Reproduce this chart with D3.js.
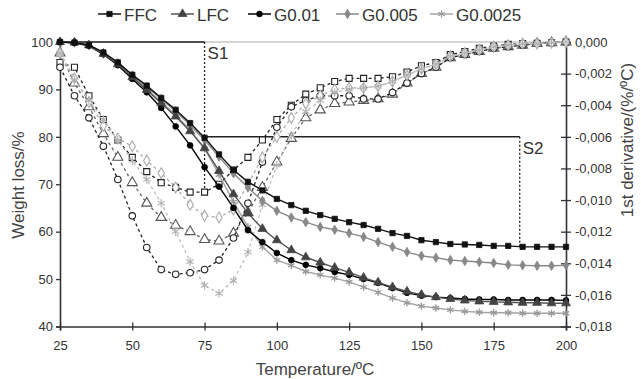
<!DOCTYPE html>
<html>
<head>
<meta charset="utf-8">
<script src="https://cdn.jsdelivr.net/npm/d3@7"></script>
<style>
body { margin: 0; background: #fff; }
text { font-family: "Liberation Sans", Arial, sans-serif; }
</style>
</head>
<body>
<script>
// temperatures, one point every 5 ºC
let temps = d3.range(25, 201, 5);

// weight loss (%), left axis
let ffcW   = [100,99.9,99.4,97.8,95.7,93.1,90.8,88.2,85.7,82.9,79.8,76.3,73.0,70.5,68.7,66.9,65.6,64.4,63.5,62.7,62.0,61.4,60.6,59.7,59.1,58.2,57.8,57.4,57.3,57.2,57.0,57.0,56.8,56.8,56.8,56.8];
let lfcW   = [100,99.9,99.3,97.5,95.3,92.6,89.9,87.1,84.3,81.2,77.6,72.8,67.9,63.9,60.6,58.2,56.1,54.6,53.5,52.4,51.4,50.3,49.3,48.3,47.4,46.7,46.2,45.8,45.5,45.3,45.2,45.1,45.0,45.0,44.9,44.9];
let g01W   = [100,99.8,99.2,97.4,95.1,92.2,89.4,86.1,82.2,78.2,73.6,69.5,65.0,60.3,57.8,55.5,54.0,53.0,52.3,51.5,50.9,50.0,49.2,48.1,47.1,46.5,46.2,46.0,45.8,45.7,45.7,45.6,45.6,45.6,45.6,45.5];
let g005W  = [100,99.9,99.3,97.6,95.5,92.9,90.5,88.0,85.4,82.5,79.3,75.8,72.3,69.3,66.5,64.4,63.0,62.0,61.0,60.4,59.7,58.9,57.8,56.8,55.7,54.9,54.5,54.0,53.8,53.6,53.4,53.0,52.9,52.8,52.8,52.9];
let g0025W = [100,99.9,99.3,97.6,95.4,92.7,90.0,87.4,84.6,81.5,77.5,72.0,66.3,61.0,56.8,54.0,52.9,51.6,50.9,50.2,49.4,48.3,47.2,46.0,45.0,44.3,43.9,43.5,43.2,43.0,42.9,42.9,42.8,42.8,42.8,42.8];

// 1st derivative (x 0.001 %/ºC), right axis
let ffcD   = [-1.3,-1.6,-3.4,-4.9,-6.2,-7.3,-8.2,-8.9,-9.2,-9.5,-9.5,-9.0,-8.1,-7.3,-6.2,-4.9,-4.0,-3.3,-2.9,-2.5,-2.3,-2.3,-2.3,-2.2,-1.9,-1.5,-1.3,-0.8,-0.6,-0.4,-0.25,-0.15,-0.1,-0.08,-0.05,0];
let lfcD   = [-0.7,-2.6,-4.1,-5.8,-7.3,-8.9,-10.2,-11.1,-11.6,-12.0,-12.5,-12.6,-12.1,-10.8,-9.2,-7.6,-6.1,-4.8,-4.3,-3.9,-3.8,-3.7,-3.6,-3.3,-2.6,-2.0,-1.6,-1.0,-0.8,-0.6,-0.4,-0.3,-0.2,-0.1,-0.05,0];
let g01D   = [-1.6,-3.4,-4.8,-6.6,-8.7,-11.0,-13.0,-14.4,-14.7,-14.6,-14.4,-13.8,-12.4,-10.2,-7.6,-5.4,-4.1,-3.7,-3.4,-3.4,-3.4,-3.6,-3.6,-3.2,-2.6,-2.0,-1.6,-1.0,-0.8,-0.6,-0.4,-0.3,-0.2,-0.1,-0.05,0];
let g005D  = [-0.7,-2.3,-3.8,-5.3,-6.1,-6.6,-7.5,-8.3,-9.2,-10.3,-11.0,-11.1,-10.6,-9.0,-7.3,-6.0,-4.8,-3.9,-3.4,-3.0,-2.9,-2.9,-2.8,-2.5,-2.1,-1.7,-1.4,-0.9,-0.7,-0.5,-0.3,-0.2,-0.1,-0.1,-0.05,0];
let g0025D = [-0.7,-2.4,-3.7,-4.9,-6.2,-7.5,-8.7,-10.2,-12.0,-13.9,-15.4,-15.9,-15.1,-13.3,-10.3,-7.8,-5.9,-4.4,-3.7,-3.2,-3.0,-2.9,-2.8,-2.5,-2.1,-1.7,-1.4,-0.9,-0.7,-0.5,-0.3,-0.2,-0.1,-0.1,-0.05,0];

let names = ["FFC","LFC","G0.01","G0.005","G0.0025"];
let xTicks = [25,50,75,100,125,150,175,200];
let yLTicks = [40,50,60,70,80,90,100];
let yRTicks = d3.range(0, 10).map(i => -0.002 * i);

// stage marks S1 / S2
let stageNames = ["S1","S2"];
let stageT = [75, 184];
let stageTop = [100, 80];
let stageBottom = [69, 57];

let series = [
  {name:"FFC",     w:ffcW,   d:ffcD,   sym:d3.symbolSquare,   size:28, line:"#111", fill:"#111", dline:"#222", dmark:"#222"},
  {name:"LFC",     w:lfcW,   d:lfcD,   sym:d3.symbolTriangle, size:34, line:"#555", fill:"#444", dline:"#666", dmark:"#555"},
  {name:"G0.01",   w:g01W,   d:g01D,   sym:d3.symbolCircle,   size:26, line:"#000", fill:"#000", dline:"#222", dmark:"#222"},
  {name:"G0.005",  w:g005W,  d:g005D,  sym:d3.symbolDiamond,  size:26, line:"#888", fill:"#888", dline:"#aaa", dmark:"#aaa"},
  {name:"G0.0025", w:g0025W, d:g0025D, sym:d3.symbolAsterisk || d3.symbolCross, size:38, line:"#a4a4a4", fill:"#999", dline:"#bbb", dmark:"#b0b0b0", stroke:true}
];

let width = 641, height = 379;
let svg = d3.select("body").append("svg").attr("width", width).attr("height", height);

let x = d3.scaleLinear().domain([25, 200]).range([60, 566]);
let yL = d3.scaleLinear().domain([40, 100]).range([326.5, 42]);
let yR = d3.scaleLinear().domain([-0.018, 0]).range([326.5, 42]);

let fmtR = v => (Math.abs(v) < 1e-9 ? "0,000" : d3.format(".3f")(v).replace("−", "-").replace(".", ","));

// top border
svg.append("line")
  .attr("x1", x(25)).attr("x2", x(200)).attr("y1", yL(100)).attr("y2", yL(100))
  .attr("stroke", "#aaa").attr("stroke-width", 1);

// stage lines
stageT.forEach((t, i) => {
  let x0 = i == 0 ? x(25) : x(stageT[i - 1]);
  svg.append("line")
    .attr("x1", x0).attr("x2", x(t)).attr("y1", yL(stageTop[i])).attr("y2", yL(stageTop[i]))
    .attr("stroke", "#222").attr("stroke-width", 1.5);
  svg.append("line")
    .attr("x1", x(t)).attr("x2", x(t)).attr("y1", yL(stageTop[i])).attr("y2", yL(stageBottom[i]))
    .attr("stroke", "#222").attr("stroke-width", 1.3).attr("stroke-dasharray", "2,2");
  svg.append("text")
    .attr("x", x(t) + 3).attr("y", yL(stageTop[i]) + 17)
    .attr("font-size", 17).attr("fill", "#333")
    .text(stageNames[i]);
});

// axes
let axL = svg.append("g").attr("transform", "translate(" + x(25) + ",0)")
  .call(d3.axisLeft(yL).tickValues(yLTicks).tickSize(4).tickPadding(3));
let axR = svg.append("g").attr("transform", "translate(" + x(200) + ",0)")
  .call(d3.axisRight(yR).tickValues(yRTicks).tickSize(5).tickPadding(4).tickFormat(fmtR));
axR.selectAll(".tick line").attr("x1", -5);
let axB = svg.append("g").attr("transform", "translate(0," + yL(40) + ")")
  .call(d3.axisBottom(x).tickValues(xTicks).tickSize(4).tickPadding(10));
axB.selectAll(".tick line").attr("y1", -4);

[axL, axR, axB].forEach(a => {
  a.select(".domain").attr("stroke", "#333").attr("stroke-width", 1.6);
  a.selectAll(".tick line").attr("stroke", "#333").attr("stroke-width", 1.3);
  a.selectAll(".tick text").attr("font-size", 13).attr("fill", "#333")
    .attr("font-family", "Liberation Sans, Arial, sans-serif");
});

// axis titles
svg.append("text")
  .attr("transform", "translate(24,185) rotate(-90)")
  .attr("text-anchor", "middle").attr("font-size", 17).attr("fill", "#444")
  .text("Weight loss/%");
svg.append("text")
  .attr("transform", "translate(633,140) rotate(-90)")
  .attr("text-anchor", "middle").attr("font-size", 17).attr("fill", "#444")
  .text("1st derivative/(%/ºC)");
svg.append("text")
  .attr("x", 315).attr("y", 375)
  .attr("text-anchor", "middle").attr("font-size", 17).attr("fill", "#444")
  .text("Temperature/ºC");

let lineW = d3.line().x((d, i) => x(temps[i])).y(d => yL(d));
let lineD = d3.line().x((d, i) => x(temps[i])).y(d => yR(d / 1000));

// derivative curves (dashed, open markers)
series.forEach(s => {
  let g = svg.append("g");
  g.append("path").datum(s.d).attr("d", lineD)
    .attr("fill", "none").attr("stroke", s.dline).attr("stroke-width", 1.3)
    .attr("stroke-dasharray", "3,3");
  g.selectAll("path.m").data(s.d).enter().append("path").attr("class", "m")
    .attr("transform", (d, i) => "translate(" + x(temps[i]) + "," + yR(d / 1000) + ")")
    .attr("d", d3.symbol().type(s.sym).size(s.size * 1.3))
    .attr("fill", s.stroke ? "none" : "#fff").attr("stroke", s.dmark).attr("stroke-width", 1.1);
});

// weight curves (solid, filled markers)
series.slice().reverse().forEach(s => {
  let g = svg.append("g");
  g.append("path").datum(s.w).attr("d", lineW)
    .attr("fill", "none").attr("stroke", s.line).attr("stroke-width", 1.4);
  g.selectAll("path.m").data(s.w).enter().append("path").attr("class", "m")
    .attr("transform", (d, i) => "translate(" + x(temps[i]) + "," + yL(d) + ")")
    .attr("d", d3.symbol().type(s.sym).size(s.size))
    .attr("fill", s.stroke ? "none" : s.fill).attr("stroke", s.fill).attr("stroke-width", s.stroke ? 1.3 : 0.8);
});

// legend
let legX = [98, 171, 248, 336, 430];
let leg = svg.append("g");
series.forEach((s, i) => {
  let g = leg.append("g").attr("transform", "translate(" + legX[i] + ",14)");
  g.append("line").attr("x1", 0).attr("x2", 23).attr("stroke", s.line).attr("stroke-width", 1.5);
  g.append("path").attr("transform", "translate(11.5,0)")
    .attr("d", d3.symbol().type(s.sym).size(s.size))
    .attr("fill", s.stroke ? "none" : s.fill).attr("stroke", s.fill).attr("stroke-width", s.stroke ? 1.2 : 0.8);
  g.append("text").attr("x", 26).attr("y", 6.5)
    .attr("font-size", 17).attr("fill", "#333").text(s.name);
});
</script>
</body>
</html>
